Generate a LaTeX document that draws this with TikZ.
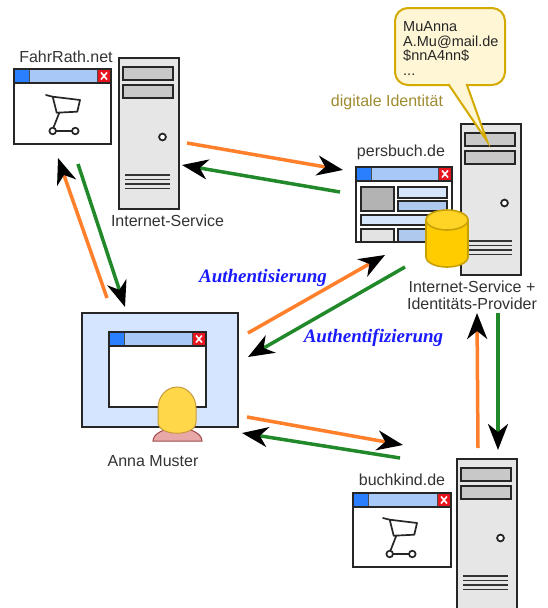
\documentclass[tikz,border=0pt]{standalone}
\usepackage{fontspec}
\setmainfont{Liberation Sans}
\newfontfamily\authfont{Liberation Serif}
\usetikzlibrary{arrows.meta,calc}

\definecolor{barblue}{HTML}{A8C8F8}
\definecolor{sqblue}{HTML}{2A7FFF}
\definecolor{xred}{HTML}{E8141E}
\definecolor{monblue}{HTML}{D5E5FF}
\definecolor{casegrey}{HTML}{E6E6E6}
\definecolor{baygrey}{HTML}{C8C8C8}
\definecolor{dbgold}{HTML}{FFCC00}
\definecolor{dbedge}{HTML}{C8A000}
\definecolor{bubfill}{HTML}{FFF6D5}
\definecolor{bubedge}{HTML}{D4AA00}
\definecolor{idtext}{HTML}{A08C30}
\definecolor{flowout}{HTML}{FF7F2A}
\definecolor{flowback}{HTML}{22892A}
\definecolor{authblue}{HTML}{1A1AFF}
\definecolor{inkgrey}{HTML}{333333}
\definecolor{headfill}{HTML}{FFD84A}
\definecolor{headedge}{HTML}{C89A3C}
\definecolor{shoulder}{HTML}{E8A8A8}
\definecolor{shoulderedge}{HTML}{A04848}
\definecolor{panelgrey}{HTML}{B3B3B3}
\definecolor{panellight}{HTML}{D5E5FA}
\definecolor{panelmid}{HTML}{AFC8EE}
\definecolor{panelpale}{HTML}{E3E3E3}

\tikzset{
  x=1pt, y=-1pt,
  winline/.style={draw=black!85, line width=2.2pt},
  bay/.style={draw=black!85, line width=1.8pt, fill=baygrey},
  panel/.style={draw=black!85, line width=1.5pt},
  flow/.style={line width=3.5pt, -{Stealth[length=26pt,width=20pt,inset=8pt,color=black]}},
  outflow/.style={flow, draw=flowout},
  backflow/.style={flow, draw=flowback},
  caption/.style={text=inkgrey, font=\fontsize{16}{17}\selectfont, inner sep=0, anchor=base},
  authlabel/.style={text=authblue, font=\authfont\bfseries\itshape\fontsize{19}{20}\selectfont, inner sep=0, anchor=base},
  pics/browser/.style n args={2}{code={
    \node[draw=none, fill=white, minimum width=#1pt, minimum height=#2pt,
          anchor=north west, inner sep=0] (-frame) at (0,0) {};
    \fill[barblue] (0,0) rectangle (#1,14);
    \fill[sqblue] (0,0) rectangle (15,14);
    \fill[xred] (#1-14,0) rectangle (#1,14);
    \draw[line width=0.8pt, black!70] (15,0) -- (15,14) (#1-14,0) -- (#1-14,14);
    \draw[white, line width=1.6pt] (#1-10,3.5) -- (#1-4,10.5) (#1-10,10.5) -- (#1-4,3.5);
    \draw[winline] (0,14) -- (#1,14);
    \draw[winline] (0,0) rectangle (#1,#2);
  }},
  pics/server/.style={code={
    \node[draw=black!85, line width=2pt, fill=casegrey, minimum width=60pt,
          minimum height=151pt, anchor=north west, inner sep=0] (-case) at (0,0) {};
    \draw[bay] (5,10) rectangle (55,23);
    \draw[bay] (5,28) rectangle (55,41);
    \draw[line width=1.8pt, draw=black!85, fill=white] (44.5,80) circle (3.4pt);
    \foreach \v in {118,122.5,127,131.5}
      \draw[line width=1.8pt, black!80] (7,\v) -- (52,\v);
  }},
  pics/cart/.style={code={
    \draw[line width=1.7pt, black!85, line join=round, line cap=round]
      (0,0) -- (6.7,1.7) -- (34,5) -- (31.3,16.7) -- (10.7,17.7) -- (6.7,1.7);
    \draw[line width=1.7pt, black!85, line cap=round] (13.3,17.7) -- (7.3,33);
    \draw[line width=1.7pt, black!85] (10,36) -- (26,36);
    \draw[line width=1.7pt, draw=black!85, fill=white] (6.7,36) circle (3.3pt);
    \draw[line width=1.7pt, draw=black!85, fill=white] (29.3,36) circle (3.3pt);
  }}
}

\begin{document}
\begin{tikzpicture}
\fill[white] (0,0) rectangle (547,608);
\useasboundingbox (0,0) rectangle (547,608);

% servers
\pic (srvA) at (118,57) {server};
\pic (srvB) at (460,123) {server};
\pic (srvC) at (456,458) {server};

% shop page FahrRath.net
\pic (fahr) at (14,69) {browser={97}{75}};
\pic (fahrcart) at (46,95) {cart};

% shop page buchkind.de
\pic (buch) at (353,493) {browser={98}{74}};
\pic (buchcart) at (383,518) {cart};

% persbuch.de page with its panels
\pic (pers) at (356,167) {browser={96}{75}};
\begin{scope}[shift={(356,167)}]
  \draw[panel, fill=panelgrey] (5,20) rectangle (38,44);
  \draw[panel, fill=panellight] (42,20) rectangle (91,31);
  \draw[panel, fill=panelmid] (42,34) rectangle (91,44);
  \draw[panel, fill=panellight] (5,48) rectangle (91,58);
  \draw[panel, fill=panelpale] (5,62) rectangle (38,75);
  \draw[panel, fill=panelmid] (42,62) rectangle (91,75);
  \draw[winline] (0,0) rectangle (96,75);
\end{scope}

% identity database
\draw[fill=dbgold, draw=dbedge, line width=1.6pt]
  (426,220) -- (426,257) arc[start angle=180, end angle=0, x radius=21, y radius=10] -- (468,220);
\draw[fill=dbgold!85!white, draw=dbedge, line width=1.6pt] (447,220) ellipse [x radius=21, y radius=10];

% user at her monitor
\node[draw=black!85, line width=2.4pt, fill=monblue, minimum width=156pt, minimum height=114pt,
      anchor=north west, inner sep=0] (monitor) at (81,312) {};
\pic (anna) at (109,332) {browser={97}{75}};
\draw[fill=shoulder, draw=shoulderedge, line width=1pt]
  (153,441) arc[start angle=180, end angle=360, x radius=24.5, y radius=13] -- cycle;
\draw[fill=headfill, draw=headedge, line width=1pt]
  (158,408) arc[start angle=180, end angle=360, x radius=19, y radius=21]
  -- (196,422) .. controls (196,437) and (158,437) .. (158,422) -- cycle;

% speech bubble with the stored identity
\node[draw=bubedge, fill=bubfill, line width=2pt, rounded corners=13pt,
      minimum width=110pt, minimum height=77pt, inner sep=0] (bubble) at (450,46.5) {};
\fill[bubfill] (447.6,83) -- (466.3,83) -- (487,141) -- cycle;
\draw[draw=bubedge, line width=2pt, line join=miter] (448.3,84) -- (487,141) -- (466.6,84);
\node[anchor=north west, align=left, inner sep=0, text=black!85,
      font=\fontsize{14.5}{14.5}\selectfont] (idlines) at (403,21.5)
  {MuAnna\\A.Mu@mail.de\\\$nnA4nn\$\\...};

% captions
\node[caption] (lfahr) at (66,62) {FahrRath.net};
\node[caption] (lsrvA) at (167.5,226) {Internet-Service};
\node[caption] (lpers) at (401,156) {persbuch.de};
\node[caption, text=idtext] (lid) at (387,106) {digitale Identität};
\node[caption] (lidp1) at (472,292.5) {Internet-Service +};
\node[caption] (lidp2) at (472,309) {Identitäts-Provider};
\node[caption] (lanna) at (153,466) {Anna Muster};
\node[caption] (lbuch) at (402,485) {buchkind.de};
\node[authlabel] (lauth1) at (263,282) {Authentisierung};
\node[authlabel] (lauth2) at (373.5,342) {Authentifizierung};

% connector end points
\coordinate (a1s) at (187,143); \coordinate (a1e) at (343,170);
\coordinate (b1s) at (340,192); \coordinate (b1e) at (182,165);
\coordinate (a2s) at (107,298); \coordinate (a2e) at (58,158);
\coordinate (b2s) at (78,164);  \coordinate (b2e) at (125,307);
\coordinate (a3s) at (248,333); \coordinate (a3e) at (385,255);
\coordinate (b3s) at (405,267); \coordinate (b3e) at (248,357);
\coordinate (a4s) at (478,448); \coordinate (a4e) at (477,313);
\coordinate (b4s) at (498,313); \coordinate (b4e) at (498,450);
\coordinate (a5s) at (247,417); \coordinate (a5e) at (403,445);
\coordinate (b5s) at (400,458); \coordinate (b5e) at (242,433);

% message flows
\draw[outflow] (a1s) -- (a1e);
\draw[backflow] (b1s) -- (b1e);
\draw[outflow] (a2s) -- (a2e);
\draw[backflow] (b2s) -- (b2e);
\draw[outflow] (a3s) -- (a3e);
\draw[backflow] (b3s) -- (b3e);
\draw[outflow] (a4s) -- (a4e);
\draw[backflow] (b4s) -- (b4e);
\draw[outflow] (a5s) -- (a5e);
\draw[backflow] (b5s) -- (b5e);
\end{tikzpicture}
\end{document}
